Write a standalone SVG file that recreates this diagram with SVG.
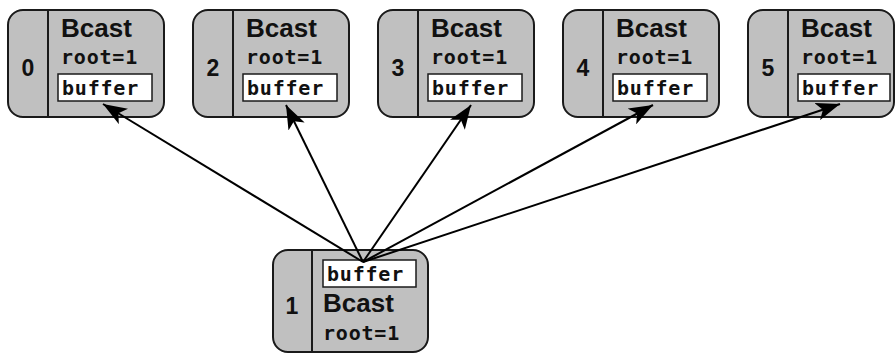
<svg xmlns="http://www.w3.org/2000/svg" width="896" height="354" viewBox="0 0 896 354">
  <style>
    .box { fill: #c0c0c0; stroke: #1a1a1a; stroke-width: 2; }
    .div { stroke: #1a1a1a; stroke-width: 2; }
    .buf { fill: #ffffff; stroke: #1a1a1a; stroke-width: 1.5; }
    .num { font-family: "Liberation Sans", Arial, sans-serif; font-weight: bold; font-size: 23px; fill: #111; text-anchor: middle; }
    .op { font-family: "Liberation Sans", Arial, sans-serif; font-weight: bold; font-size: 26px; fill: #111; }
    .mono { font-family: "DejaVu Sans Mono", "Liberation Mono", monospace; font-weight: bold; font-size: 20px; letter-spacing: 0.8px; fill: #111; }
    .edge { stroke: #000; stroke-width: 2; fill: none; marker-end: url(#arrow); }
  </style>
  <defs>
    <marker id="arrow" viewBox="0 0 24 18" refX="24" refY="9" markerWidth="24" markerHeight="18" markerUnits="userSpaceOnUse" orient="auto">
      <path d="M0,0 L24,9 L0,18 L6,9 z" fill="#000"/>
    </marker>
  </defs>

  <!-- receiving ranks -->
  <g id="rank0" transform="translate(8,0)">
    <rect class="box" x="0" y="10" width="156" height="107" rx="15"/>
    <line class="div" x1="40" y1="10" x2="40" y2="117"/>
    <text class="num" x="20" y="76">0</text>
    <text class="op" x="53" y="37">Bcast</text>
    <text class="mono" x="53" y="64">root=1</text>
    <rect class="buf" x="50" y="74" width="94" height="27"/>
    <text class="mono" x="54" y="95">buffer</text>
  </g>
  <g id="rank2" transform="translate(193,0)">
    <rect class="box" x="0" y="10" width="156" height="107" rx="15"/>
    <line class="div" x1="40" y1="10" x2="40" y2="117"/>
    <text class="num" x="20" y="76">2</text>
    <text class="op" x="53" y="37">Bcast</text>
    <text class="mono" x="53" y="64">root=1</text>
    <rect class="buf" x="50" y="74" width="94" height="27"/>
    <text class="mono" x="54" y="95">buffer</text>
  </g>
  <g id="rank3" transform="translate(378,0)">
    <rect class="box" x="0" y="10" width="156" height="107" rx="15"/>
    <line class="div" x1="40" y1="10" x2="40" y2="117"/>
    <text class="num" x="20" y="76">3</text>
    <text class="op" x="53" y="37">Bcast</text>
    <text class="mono" x="53" y="64">root=1</text>
    <rect class="buf" x="50" y="74" width="94" height="27"/>
    <text class="mono" x="54" y="95">buffer</text>
  </g>
  <g id="rank4" transform="translate(563,0)">
    <rect class="box" x="0" y="10" width="156" height="107" rx="15"/>
    <line class="div" x1="40" y1="10" x2="40" y2="117"/>
    <text class="num" x="20" y="76">4</text>
    <text class="op" x="53" y="37">Bcast</text>
    <text class="mono" x="53" y="64">root=1</text>
    <rect class="buf" x="50" y="74" width="94" height="27"/>
    <text class="mono" x="54" y="95">buffer</text>
  </g>
  <g id="rank5" transform="translate(748,0)">
    <rect class="box" x="0" y="10" width="146" height="107" rx="15"/>
    <line class="div" x1="40" y1="10" x2="40" y2="117"/>
    <text class="num" x="20" y="76">5</text>
    <text class="op" x="53" y="37">Bcast</text>
    <text class="mono" x="53" y="64">root=1</text>
    <rect class="buf" x="50" y="74" width="92" height="27"/>
    <text class="mono" x="54" y="95">buffer</text>
  </g>

  <!-- root rank -->
  <g id="rank1" transform="translate(273,250)">
    <rect class="box" x="0" y="0" width="155" height="102" rx="15"/>
    <line class="div" x1="39" y1="0" x2="39" y2="102"/>
    <text class="num" x="19" y="64">1</text>
    <rect class="buf" x="50" y="10" width="93" height="27"/>
    <text class="mono" x="54" y="31">buffer</text>
    <text class="op" x="50" y="62">Bcast</text>
    <text class="mono" x="50" y="90">root=1</text>
  </g>

  <!-- broadcast edges -->
  <g id="edges">
    <line class="edge" x1="363" y1="262" x2="103" y2="104"/>
    <line class="edge" x1="363" y1="262" x2="286" y2="105"/>
    <line class="edge" x1="363" y1="262" x2="471" y2="105"/>
    <line class="edge" x1="363" y1="262" x2="653" y2="105"/>
    <line class="edge" x1="363" y1="262" x2="840" y2="104"/>
  </g>
</svg>
